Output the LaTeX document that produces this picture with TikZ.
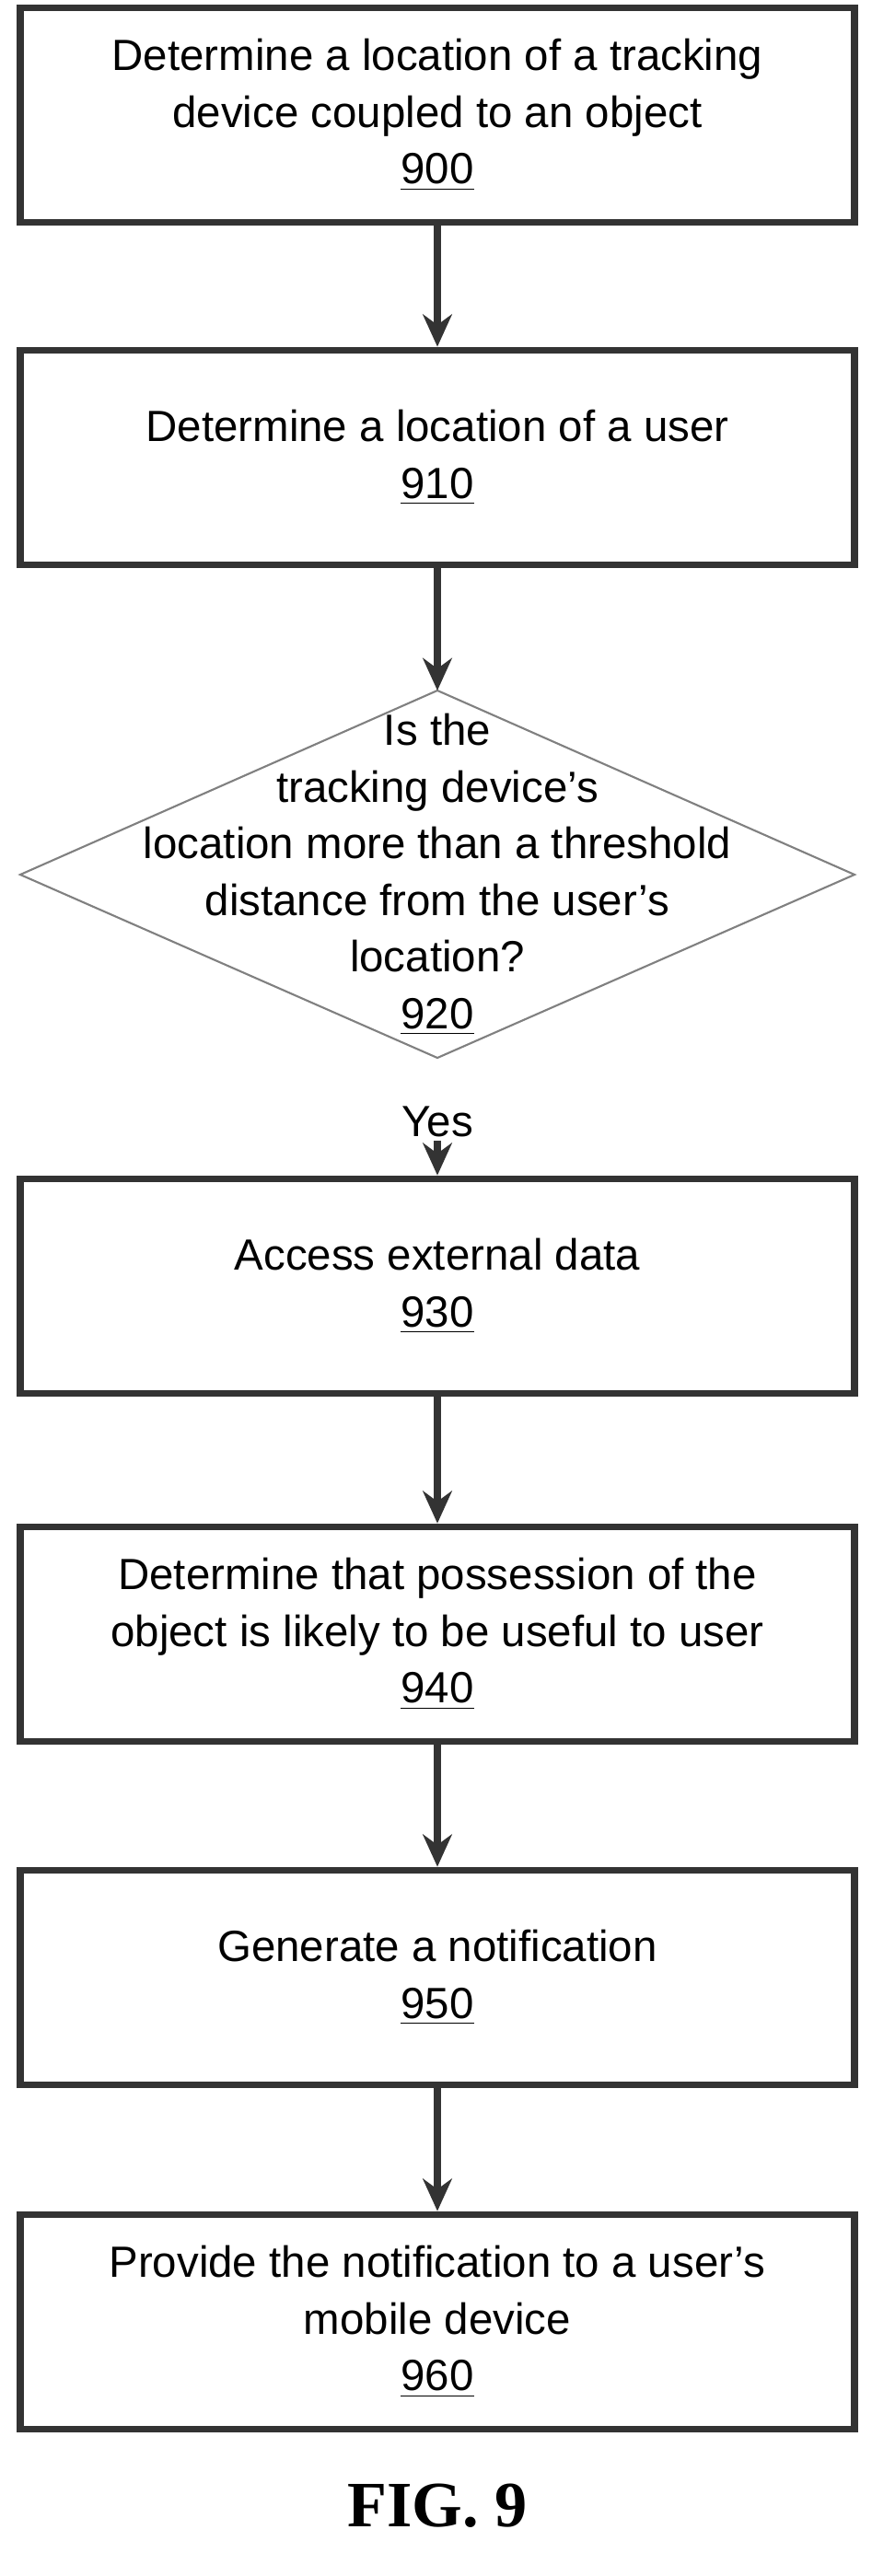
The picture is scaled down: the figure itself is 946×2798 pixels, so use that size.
\documentclass[tikz,border=0pt]{standalone}
\usepackage{fontspec}
\setmainfont{Liberation Sans}
\usetikzlibrary{arrows.meta,shapes.geometric}
\begin{document}
\begin{tikzpicture}[x=0.1mm,y=-0.1mm,
 box/.style={draw=black!80,line width=2.2pt,minimum width=906*0.1mm,minimum height=233*0.1mm,align=center,font=\fontsize{13.5}{17.5}\selectfont,inner sep=0pt},
 arr/.style={draw=black!80,line width=2.2pt,-{Stealth[length=10pt,width=9pt]}}]
\useasboundingbox (0,0) rectangle (946,2798);
\node[box] (a) at (475,125) {Determine a location of a tracking\\device coupled to an object\\\underline{900}};
\node[box] (b) at (475,497) {Determine a location of a user\\\underline{910}};
\draw[gray,line width=0.6pt] (475,750) coordinate (dt) -- (928,950) -- (475,1149) coordinate (db) -- (22,950) -- cycle;
\node[align=center,font=\fontsize{13.5}{17.5}\selectfont] (d) at (475,950) {Is the\\tracking device's\\location more than a threshold\\distance from the user's\\location?\\\underline{920}};
\node[font=\fontsize{13.5}{17.5}\selectfont,inner sep=1pt] (y) at (475,1218) {Yes};
\node[box] (c) at (475,1397) {Access external data\\\underline{930}};
\node[box] (e) at (475,1775) {Determine that possession of the\\object is likely to be useful to user\\\underline{940}};
\node[box] (f) at (475,2148) {Generate a notification\\\underline{950}};
\node[box] (g) at (475,2522) {Provide the notification to a user's\\mobile device\\\underline{960}};
\node[font=\fontsize{20}{24}\bfseries\rmfamily] (fig) at (475,2722) {\fontspec{Liberation Serif}FIG. 9};
\draw[arr] (a) -- (b);
\draw[arr] (b) -- (dt);
\draw[arr] (y) -- (c);
\draw[arr] (c) -- (e);
\draw[arr] (e) -- (f);
\draw[arr] (f) -- (g);
\end{tikzpicture}
\end{document}
